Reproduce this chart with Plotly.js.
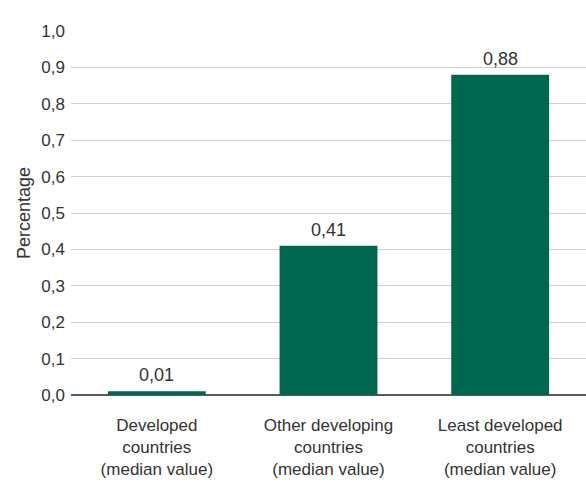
<!DOCTYPE html>
<html><head><meta charset="utf-8">
<script src="https://cdn.plot.ly/plotly-3.0.1.min.js"></script>
<style>html,body{margin:0;padding:0;background:#fff}</style>
</head><body>
<div id="chart" style="width:586px;height:485px"></div>
<script>
const categories = ["Developed<br>countries<br>(median value)", "Other developing<br>countries<br>(median value)", "Least developed<br>countries<br>(median value)"];
const values = [0.01, 0.41, 0.88];
const valueLabels = ["0,01", "0,41", "0,88"];
const yTicks = [0, 0.1, 0.2, 0.3, 0.4, 0.5, 0.6, 0.7, 0.8, 0.9, 1.0];
const yTickLabels = ["0,0", "0,1", "0,2", "0,3", "0,4", "0,5", "0,6", "0,7", "0,8", "0,9", "1,0"];

const fam = "'Liberation Sans', Arial, sans-serif";
const txt = "#333333";

const annotations = categories.map((c, i) => ({
  x: c, y: values[i], xref: "x", yref: "y",
  text: valueLabels[i], showarrow: false,
  yanchor: "bottom", yshift: 4,
  font: {family: fam, size: 18, color: txt}
}));

Plotly.newPlot("chart", [{
  type: "bar",
  x: categories,
  y: values,
  marker: {color: "#006650"},
  hoverinfo: "none"
}], {
  width: 586, height: 485,
  margin: {l: 71, r: 0, t: 31, b: 90},
  paper_bgcolor: "#ffffff", plot_bgcolor: "#ffffff",
  bargap: 0.43,
  showlegend: false,
  font: {family: fam, size: 17, color: txt},
  annotations: annotations,
  xaxis: {
    range: [-0.5, 2.5],
    showgrid: false, zeroline: false,
    showline: false,
    ticks: "", tickfont: {family: fam, size: 17, color: txt},
    ticklabelstandoff: 18,
    fixedrange: true
  },
  yaxis: {
    range: [0, 1.0],
    tickvals: yTicks, ticktext: yTickLabels,
    showgrid: true, gridcolor: "#d0d0d0", gridwidth: 1,
    zeroline: true, zerolinecolor: "#5a5a5a", zerolinewidth: 2,
    showline: false, ticks: "",
    ticklabelstandoff: 5,
    tickfont: {family: fam, size: 17, color: txt},
    title: {text: "Percentage", font: {family: fam, size: 18, color: txt}, standoff: 6},
    fixedrange: true
  }
}, {displayModeBar: false, staticPlot: true});
</script>
</body></html>
